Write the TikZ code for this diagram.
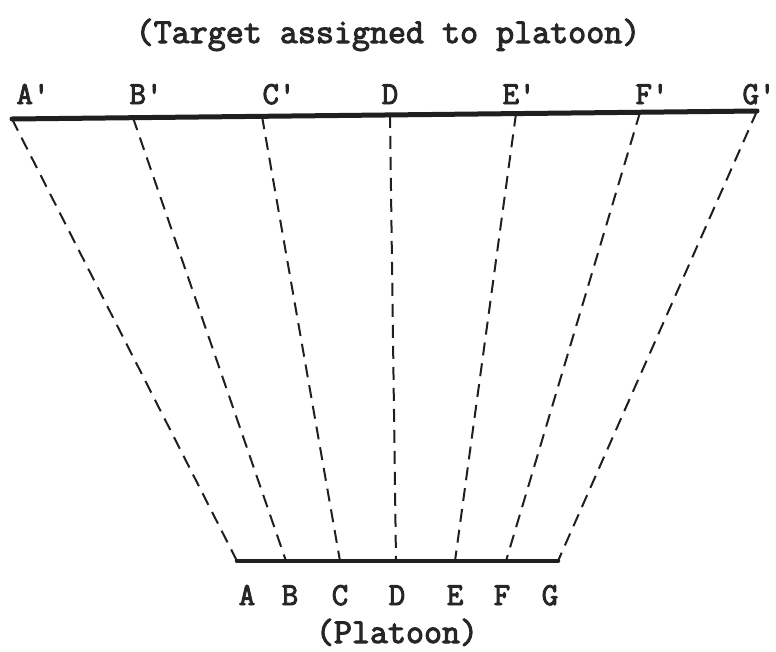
\documentclass[tikz,border=0pt]{standalone}
\usepackage{fontspec}
\newfontfamily\typew{Latin Modern Mono}[FakeBold=3]
\begin{document}
\begin{tikzpicture}[x=1pt,y=-1pt,
  ink/.style={draw=black!88},
  heavy/.style={ink,line width=5pt,line cap=round},
  ray/.style={ink,line width=2pt,dash pattern=on 13pt off 8pt},
  lbl/.style={font=\typew\fontsize{32}{32}\selectfont,text=black!85,inner sep=0pt,anchor=base},
  captext/.style={lbl,font=\typew\fontsize{35}{35}\selectfont}]
\useasboundingbox (0,0) rectangle (776,651);
% top line points
\coordinate (Ta) at (12,119);
\coordinate (Tb) at (133,117.7);
\coordinate (Tc) at (262,116.3);
\coordinate (Td) at (390,114.9);
\coordinate (Te) at (516,113.6);
\coordinate (Tf) at (640,112.3);
\coordinate (Tg) at (757,111);
% bottom line points
\coordinate (Ba) at (237,561);
\coordinate (Bb) at (286,561);
\coordinate (Bc) at (340,561);
\coordinate (Bd) at (396,561);
\coordinate (Be) at (455,561);
\coordinate (Bf) at (506,561);
\coordinate (Bg) at (558,561);
% dashed rays
\foreach \p in {a,b,c,d,e,f,g}{\draw[ray] (T\p) -- (B\p);}
% solid lines
\draw[heavy] (Ta) -- (Tg);
\draw[heavy,line width=4.5pt] (Ba) -- (Bg);
% labels
\node[captext] (title) at (388,43) {(Target assigned to platoon)};
\node[lbl] (la) at (33,104) {A'};
\node[lbl] (lb) at (146,104) {B'};
\node[lbl] (lc) at (279,104) {C'};
\node[lbl] (ld) at (390,104) {D};
\node[lbl] (le) at (519,104) {E'};
\node[lbl] (lf) at (652,104) {F'};
\node[lbl] (lg) at (759,104) {G'};
\node[lbl] (ba) at (247,605) {A};
\node[lbl] (bb) at (290,605) {B};
\node[lbl] (bc) at (340,605) {C};
\node[lbl] (bd) at (397,605) {D};
\node[lbl] (be) at (455,605) {E};
\node[lbl] (bf) at (502,605) {F};
\node[lbl] (bg) at (550,605) {G};
\node[captext] (plat) at (397,643) {(Platoon)};
\end{tikzpicture}
\end{document}
